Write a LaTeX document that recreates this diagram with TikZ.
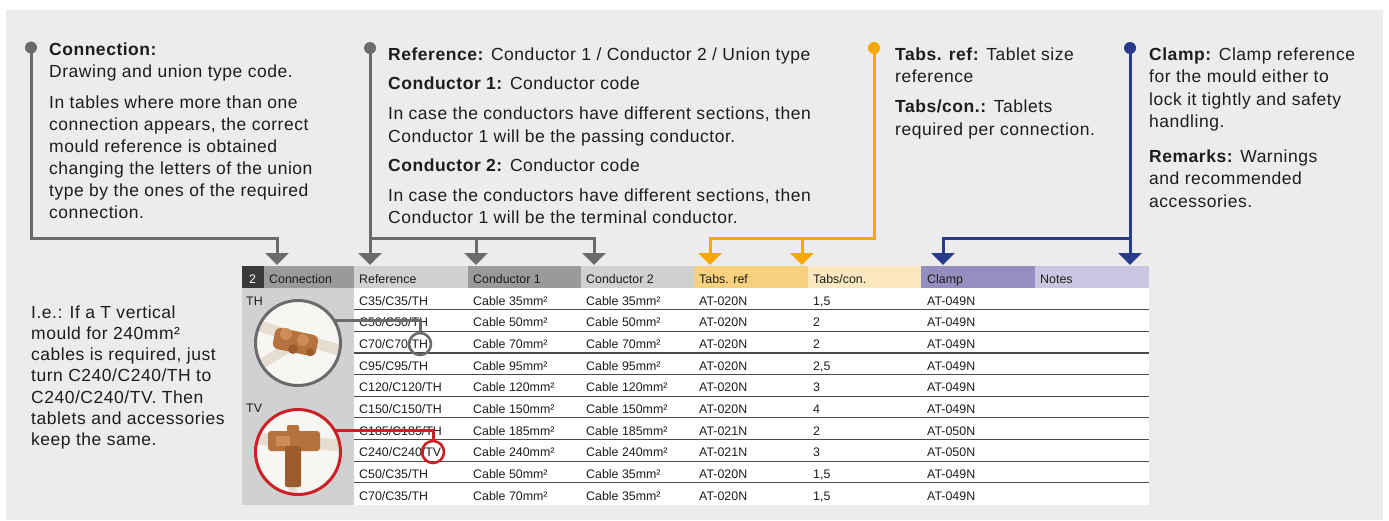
\documentclass[tikz,border=0pt]{standalone}
\usepackage{fontspec}
\setmainfont{Liberation Sans}
\newfontfamily\descfont{Liberation Sans}[LetterSpace=3]
\usetikzlibrary{arrows.meta}
\definecolor{bgc}{HTML}{ECECEC}
\definecolor{txt}{HTML}{1D1D1B}
\definecolor{gcon}{HTML}{6B6B6B}
\definecolor{ocon}{HTML}{F5A800}
\definecolor{ncon}{HTML}{283A8A}
\definecolor{rcon}{HTML}{CC1F26}
\definecolor{hdark}{HTML}{3A3A3A}
\definecolor{hmid}{HTML}{9A9A9A}
\definecolor{hlight}{HTML}{D0D0D0}
\definecolor{horA}{HTML}{F8D17E}
\definecolor{horB}{HTML}{FCE8C0}
\definecolor{hviA}{HTML}{948FC0}
\definecolor{hviB}{HTML}{C9C6E2}
\definecolor{colbody}{HTML}{D1D1D1}
\definecolor{rowln}{HTML}{4A4A4A}
\definecolor{copper}{HTML}{B5723C}
\definecolor{copperD}{HTML}{9C5C2B}
\definecolor{copperL}{HTML}{CC8D57}
\definecolor{cable}{HTML}{E6DCD0}
\definecolor{photobg}{HTML}{F8F6F3}
\tikzset{
  desc/.style={anchor=base west, inner sep=0, text=txt, font=\descfont\fontsize{17.5}{21}\selectfont},
  tcell/.style={anchor=base west, inner sep=0, text=txt, font=\fontsize{12.4}{14}\selectfont},
  harrow/.style={-{Triangle[width=23pt,length=12pt]}},
  gline/.style={draw=gcon, line width=3pt},
  oline/.style={draw=ocon, line width=3pt},
  nline/.style={draw=ncon, line width=3pt},
  rline/.style={draw=rcon, line width=3pt},
  rowline/.style={draw=rowln, line width=1.1pt},
  markc/.style={circle, line width=2.6pt, minimum size=22pt, inner sep=0},
  photoc/.style={circle, line width=3pt, minimum size=85pt, inner sep=0},
}
\newcommand\tabrow[7]{%
  \node[tcell] (ra#1) at (359,{305.3+21.65*(#1-1)}) {#2};
  \node[tcell] (rb#1) at (473,{305.3+21.65*(#1-1)}) {Cable #3mm²};
  \node[tcell] (rc#1) at (586,{305.3+21.65*(#1-1)}) {Cable #4mm²};
  \node[tcell] (rd#1) at (699,{305.3+21.65*(#1-1)}) {#5};
  \node[tcell] (re#1) at (813,{305.3+21.65*(#1-1)}) {#6};
  \node[tcell] (rf#1) at (927,{305.3+21.65*(#1-1)}) {#7};
}
\begin{document}
\begin{tikzpicture}[x=1pt,y=-1pt]
\useasboundingbox (0,0) rectangle (1389,520);
\fill[white] (0,0) rectangle (1389,520);
\fill[bgc] (6,10) rectangle (1383,520);

% ---------- table header ----------
\fill[hdark]  (242,266) rectangle (263.5,288);
\fill[hmid]   (263.5,266) rectangle (354,288);
\fill[hlight] (354,266) rectangle (468,288);
\fill[hmid]   (468,266) rectangle (581,288);
\fill[hlight] (581,266) rectangle (694,288);
\fill[horA]   (694,266) rectangle (808,288);
\fill[horB]   (808,266) rectangle (921,288);
\fill[hviA]   (921,266) rectangle (1035,288);
\fill[hviB]   (1035,266) rectangle (1149,288);
\fill[colbody] (242,288) rectangle (354,504.5);
\fill[white]   (354,288) rectangle (1149,504.5);

\node[tcell, text=white] (h0) at (249,283) {2};
\node[tcell] (h1) at (269,283) {Connection};
\node[tcell] (h2) at (359,283) {Reference};
\node[tcell] (h3) at (473,283) {Conductor 1};
\node[tcell] (h4) at (586,283) {Conductor 2};
\node[tcell] (h5) at (699,283) {Tabs. ref};
\node[tcell] (h6) at (813,283) {Tabs/con.};
\node[tcell] (h7) at (927,283) {Clamp};
\node[tcell] (h8) at (1040,283) {Notes};

% ---------- rows ----------
\foreach \i in {1,...,9} \draw[rowline] (354,{288+21.65*\i}) -- (1149,{288+21.65*\i});
\tabrow{1}{C35/C35/TH}{35}{35}{AT-020N}{1,5}{AT-049N}
\tabrow{2}{C50/C50/TH}{50}{50}{AT-020N}{2}{AT-049N}
\tabrow{3}{C70/C70/TH}{70}{70}{AT-020N}{2}{AT-049N}
\tabrow{4}{C95/C95/TH}{95}{95}{AT-020N}{2,5}{AT-049N}
\tabrow{5}{C120/C120/TH}{120}{120}{AT-020N}{3}{AT-049N}
\tabrow{6}{C150/C150/TH}{150}{150}{AT-020N}{4}{AT-049N}
\tabrow{7}{C185/C185/TH}{185}{185}{AT-021N}{2}{AT-050N}
\tabrow{8}{C240/C240/TV}{240}{240}{AT-021N}{3}{AT-050N}
\tabrow{9}{C50/C35/TH}{50}{35}{AT-020N}{1,5}{AT-049N}
\tabrow{10}{C70/C35/TH}{70}{35}{AT-020N}{1,5}{AT-049N}

\node[tcell] (lTH) at (246,305.3) {TH};
\node[tcell] (lTV) at (246,412.5) {TV};

% ---------- photos ----------
\fill[photobg] (298,343) circle (42.5pt);
\begin{scope}
  \clip (298,343) circle (42.5pt);
  \draw[cable, line width=11pt] (248,322) -- (285,334);
  \draw[cable, line width=11pt] (312,342) -- (352,354);
  \draw[cable, line width=10pt] (248,372) -- (286,349);
  \fill[copper, rounded corners=5pt] (276,327) -- (319,336) -- (315,357) -- (272,348) -- cycle;
  \fill[copperL] (286,334) circle (6pt);
  \fill[copperL] (303,340) circle (6pt);
  \fill[copperD] (293,349) circle (5pt);
  \fill[copperD] (310,352) circle (4pt);
\end{scope}
\node[photoc, draw=gcon] (thphoto) at (298,343) {};

\fill[photobg] (298,452) circle (42.5pt);
\begin{scope}
  \clip (298,452) circle (42.5pt);
  \draw[cable, line width=12pt] (248,438) -- (348,446);
  \draw[cable, line width=8pt] (292,482) -- (294,502);
  \fill[copper, rounded corners=3pt] (268,431) rectangle (320,451);
  \fill[copperD, rounded corners=2pt] (285,446) rectangle (301,487);
  \fill[copper, rounded corners=2pt] (287,425) rectangle (299,434);
  \fill[copperL] (276,436) rectangle (290,446);
\end{scope}
\node[photoc, draw=rcon] (tvphoto) at (298,452) {};

% ---------- marks ----------
\node[markc, draw=gcon] (thmark) at (420,344) {};
\coordinate (thstart) at (334,320);
\draw[gline] (thstart) -| (thmark.north);
\node[markc, draw=rcon] (tvmark) at (433,452) {};
\coordinate (tvstart) at (335,430);
\draw[rline] (tvstart) -| (tvmark.north);

% ---------- connectors ----------
\coordinate (cdot) at (31,47.5);
\coordinate (cbend) at (31,238);
\coordinate (tConn) at (277,265);
\draw[gline, harrow] (cdot) -- (cbend) -| (tConn);
\fill[gcon] (cdot) circle (6pt);

\coordinate (rdot) at (370,48);
\coordinate (rbend) at (370,238);
\coordinate (tRef) at (370,265);
\coordinate (tC1) at (476,265);
\coordinate (tC2) at (594,265);
\draw[gline, harrow] (rdot) -- (tRef);
\draw[gline, harrow] (rbend) -| (tC1);
\draw[gline, harrow] (rbend) -| (tC2);
\fill[gcon] (rdot) circle (6pt);

\coordinate (odot) at (874,48);
\coordinate (obend) at (874,238);
\coordinate (tTr) at (710,265);
\coordinate (tTc) at (802,265);
\draw[oline, harrow] (odot) -- (obend) -| (tTr);
\draw[oline, harrow] (obend) -| (tTc);
\fill[ocon] (odot) circle (6pt);

\coordinate (ndot) at (1130,48);
\coordinate (nbend) at (1130,238);
\coordinate (tNotes) at (1130,265);
\coordinate (tClamp) at (943,265);
\draw[nline, harrow] (ndot) -- (tNotes);
\draw[nline, harrow] (nbend) -| (tClamp);
\fill[ncon] (ndot) circle (6pt);

% ---------- descriptions ----------
\node[desc] (c1) at (49,55) {\bfseries Connection:};
\node[desc] (c2) at (49,77.5) {Drawing and union type code.};
\node[desc] (c3) at (49,108.3) {In tables where more than one};
\node[desc] (c4) at (49,130.3) {connection appears, the correct};
\node[desc] (c5) at (49,152.3) {mould reference is obtained};
\node[desc] (c6) at (49,174.3) {changing the letters of the union};
\node[desc] (c7) at (49,196.3) {type by the ones of the required};
\node[desc] (c8) at (49,218.3) {connection.};

\node[desc] (r1) at (388,60) {\textbf{Reference:} Conductor 1 / Conductor 2 / Union type};
\node[desc] (r2) at (388,89.5) {\textbf{Conductor 1:} Conductor code};
\node[desc] (r3) at (388,119.5) {In case the conductors have different sections, then};
\node[desc] (r4) at (388,142) {Conductor 1 will be the passing conductor.};
\node[desc] (r5) at (388,171) {\textbf{Conductor 2:} Conductor code};
\node[desc] (r6) at (388,201) {In case the conductors have different sections, then};
\node[desc] (r7) at (388,223.5) {Conductor 1 will be the terminal conductor.};

\node[desc] (t1) at (895,60) {\textbf{Tabs. ref:} Tablet size};
\node[desc] (t2) at (895,82.5) {reference};
\node[desc] (t3) at (895,112.5) {\textbf{Tabs/con.:} Tablets};
\node[desc] (t4) at (895,135) {required per connection.};

\node[desc] (k1) at (1149,60) {\textbf{Clamp:} Clamp reference};
\node[desc] (k2) at (1149,82.5) {for the mould either to};
\node[desc] (k3) at (1149,105) {lock it tightly and safety};
\node[desc] (k4) at (1149,127.5) {handling.};
\node[desc] (k5) at (1149,162) {\textbf{Remarks:} Warnings};
\node[desc] (k6) at (1149,184.5) {and recommended};
\node[desc] (k7) at (1149,207) {accessories.};

\node[desc] (e1) at (31,318.3) {I.e.: If a T vertical};
\node[desc] (e2) at (31,339.5) {mould for 240mm²};
\node[desc] (e3) at (31,360.7) {cables is required, just};
\node[desc] (e4) at (31,381.9) {turn C240/C240/TH to};
\node[desc] (e5) at (31,403.1) {C240/C240/TV. Then};
\node[desc] (e6) at (31,424.3) {tablets and accessories};
\node[desc] (e7) at (31,445.5) {keep the same.};
\end{tikzpicture}
\end{document}
